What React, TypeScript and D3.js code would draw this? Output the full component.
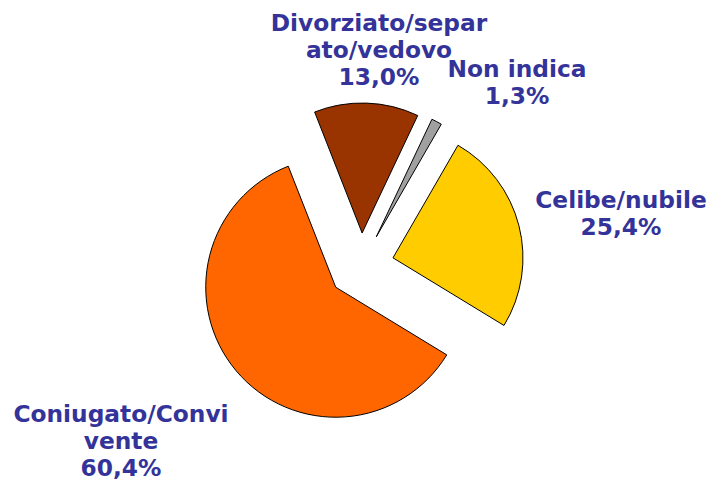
import React from "react";
import * as d3 from "d3";

const categories = ["Celibe/nubile", "Coniugato/Convivente", "Divorziato/separato/vedovo", "Non indica"];
const values = [25.4, 60.4, 13.0, 1.3];
const percentLabels = ["25,4%", "60,4%", "13,0%", "1,3%"];
const labelLines = [["Celibe/nubile"], ["Coniugato/Convi", "vente"], ["Divorziato/separ", "ato/vedovo"], ["Non indica"]];
const colors = ["#FFCC00", "#FF6600", "#993300", "#A0A0A0"];

const W = 715, H = 484;
const cx = 361, cy = 266, R = 130, explode = 33;
const labelPos = [
  { x: 621, y: 208 },
  { x: 121, y: 422 },
  { x: 379, y: 31 },
  { x: 517, y: 77 },
];
const lineH = 27;

export default function App() {
  const pie = d3.pie<number>().sort(null).value((d) => d)
    .startAngle((30 * Math.PI) / 180).endAngle((390 * Math.PI) / 180);
  const arcs = pie(values);
  const arc = d3.arc<d3.PieArcDatum<number>>().innerRadius(0).outerRadius(R);
  return (
    <svg width={W} height={H} style={{ position: "absolute", left: 0, top: 0 }}>
      <rect width={W} height={H} fill="#fff" />
      <g transform={`translate(${cx},${cy})`}>
        {arcs.map((a, i) => {
          const mid = (a.startAngle + a.endAngle) / 2;
          const dx = Math.sin(mid) * explode, dy = -Math.cos(mid) * explode;
          return (
            <path key={categories[i]} d={arc(a) || ""} transform={`translate(${dx},${dy})`}
              fill={colors[i]} stroke="#000" strokeWidth={1} strokeLinejoin="round" />
          );
        })}
      </g>
      {labelLines.map((lines, i) => (
        <text key={i} textAnchor="middle" fill="#333399" fontFamily="'DejaVu Sans', Verdana, sans-serif"
          fontWeight="bold" fontSize={23.3}>
          {[...lines, percentLabels[i]].map((t, j) => (
            <tspan key={j} x={labelPos[i].x} y={labelPos[i].y + j * lineH}>{t}</tspan>
          ))}
        </text>
      ))}
    </svg>
  );
}
